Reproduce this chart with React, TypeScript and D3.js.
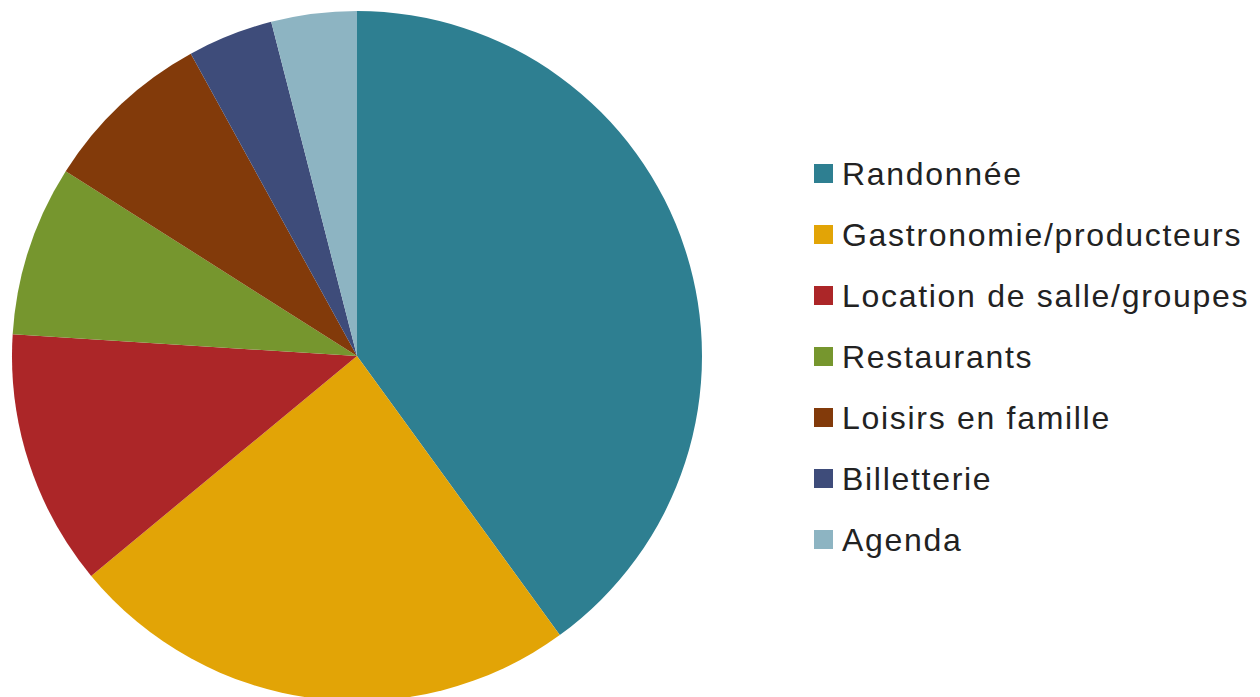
import React from "react";
import * as d3 from "d3";

const categories = [
  "Randonnée",
  "Gastronomie/producteurs",
  "Location de salle/groupes",
  "Restaurants",
  "Loisirs en famille",
  "Billetterie",
  "Agenda",
];
const values = [40, 24, 12, 8, 8, 4, 4];
const colors = ["#2E7F91", "#E2A406", "#AC2628", "#76962E", "#823A0A", "#3E4C7A", "#8DB4C2"];

export default function App() {
  const W = 1260, H = 697;
  const cx = 357, cy = 356, r = 345;
  const pie = d3.pie<number>().sort(null).value((d) => d)(values);
  const arc = d3.arc<d3.PieArcDatum<number>>().innerRadius(0).outerRadius(r);
  const legendY = d3.scalePoint<number>().domain(d3.range(categories.length)).range([173.5, 539.5]);
  return (
    <svg width={W} height={H} style={{ position: "absolute", left: 0, top: 0, background: "#fff" }}>
      <g transform={`translate(${cx},${cy})`}>
        {pie.map((p, i) => (
          <path key={i} d={arc(p) || ""} fill={colors[i]} />
        ))}
      </g>
      {categories.map((c, i) => {
        const y = legendY(i)!;
        return (
          <g key={c}>
            <rect x={814} y={y - 9.5} width={19} height={19} fill={colors[i]} />
            <text
              x={842}
              y={y + 11.5}
              fontFamily="'Liberation Sans', Arial, sans-serif"
              fontSize={32}
              letterSpacing={1.7}
              fill="#222"
            >
              {c}
            </text>
          </g>
        );
      })}
    </svg>
  );
}
